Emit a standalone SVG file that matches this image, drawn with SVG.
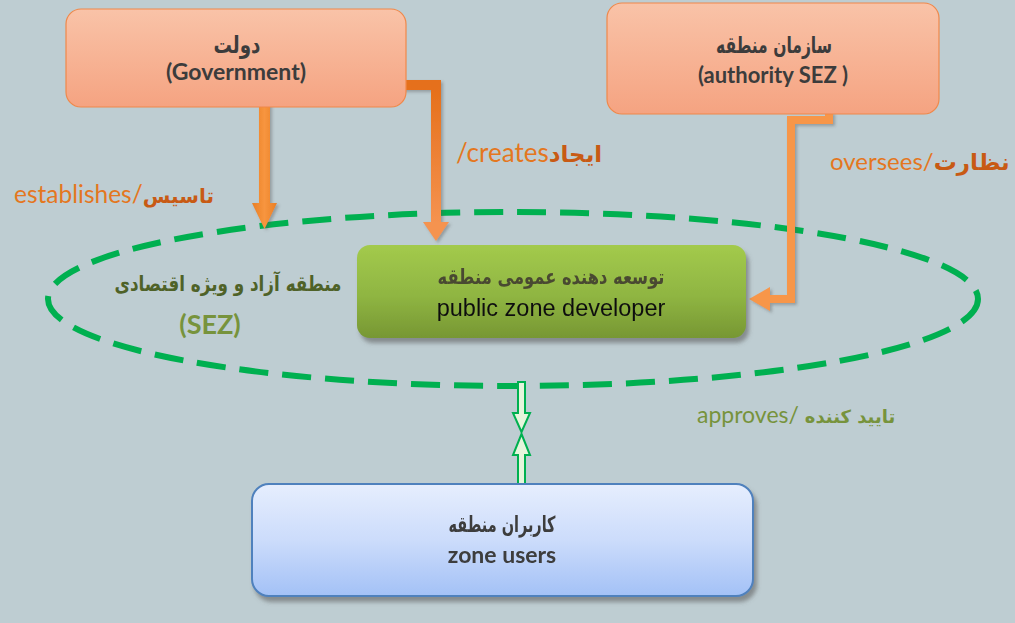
<svg xmlns="http://www.w3.org/2000/svg" width="1015" height="623" viewBox="0 0 1015 623">
<defs>
<linearGradient id="gOrange" x1="0" y1="0" x2="0" y2="1"><stop offset="0" stop-color="#F9C3A8"/><stop offset="1" stop-color="#F5A381"/></linearGradient>
<linearGradient id="gGreen" x1="0" y1="0" x2="0" y2="1"><stop offset="0" stop-color="#A3CA4C"/><stop offset="0.55" stop-color="#8FB542"/><stop offset="1" stop-color="#779733"/></linearGradient>
<linearGradient id="gBlue" x1="0" y1="0" x2="0" y2="1"><stop offset="0" stop-color="#E6EEFE"/><stop offset="0.5" stop-color="#CCDCFB"/><stop offset="1" stop-color="#A3C1F6"/></linearGradient>
<linearGradient id="gArrowH" x1="0" y1="0" x2="1" y2="0"><stop offset="0" stop-color="#E97F25"/><stop offset="0.5" stop-color="#F7953F"/><stop offset="1" stop-color="#E97F25"/></linearGradient>
<linearGradient id="gCreate" x1="0" y1="0" x2="0" y2="1"><stop offset="0" stop-color="#E56F1A"/><stop offset="1" stop-color="#F59350"/></linearGradient>
<filter id="sh" x="-10%" y="-10%" width="125%" height="135%"><feDropShadow dx="3" dy="5" stdDeviation="2" flood-color="#555" flood-opacity="0.55"/></filter>
<filter id="shs" x="-20%" y="-20%" width="150%" height="150%"><feDropShadow dx="2" dy="2" stdDeviation="1.5" flood-color="#555" flood-opacity="0.4"/></filter>
</defs>
<style>
.fa{font-family:"DejaVu Sans","Noto Sans",sans-serif;font-weight:bold}
.la{font-family:Lato,"Open Sans","DejaVu Sans",sans-serif}
.dark{fill:#3C3C3C}
.orange{fill:#E4771F}
.orangeB{fill:#C85A14;font-weight:bold}
</style>
<rect width="1015" height="623" fill="#BECDD2"/>

<g id="sez-zone">
<ellipse cx="513" cy="299" rx="465" ry="87" fill="none" stroke="#00B050" stroke-width="6" stroke-dasharray="29 14"/>
<text x="228" y="291" text-anchor="middle" class="fa" font-size="21" textLength="227" lengthAdjust="spacingAndGlyphs" fill="#4F6228">منطقه آزاد و ویژه اقتصادی</text>
<text x="210" y="334" text-anchor="middle" class="la" font-weight="bold" font-size="27" fill="#77933C">(SEZ)</text>
</g>

<g id="connectors">
<g id="establishes" filter="url(#shs)">
<polygon points="259,95 264.5,106 270,95 270,203 277,203 264.5,229 252,203 259,203" fill="url(#gArrowH)"/>
</g>
<g id="creates" filter="url(#shs)">
<path d="M402 85 H436 V224" fill="none" stroke="url(#gCreate)" stroke-width="10"/>
<polygon points="423,222 449,222 436,241" fill="#F59350"/>
</g>
<g id="oversees" filter="url(#shs)">
<path d="M829 112 V120 H791 V299 H768" fill="none" stroke="#F7964A" stroke-width="8"/>
<polygon points="770,287 770,311 749,299" fill="#F7964A"/>
</g>
<g id="approves" fill="#E6F5DC" stroke="#00B050" stroke-width="2">
<polygon points="518,382 525,382 525,413 530,413 521.5,432 513,413 518,413"/>
<polygon points="521.5,434 530,455 525,455 525,484 518,484 518,455 513,455"/>
</g>
<text x="14" y="203" class="la" font-size="24.5"><tspan class="orange">establishes/</tspan><tspan class="fa orangeB" font-size="20">تاسیس</tspan></text>
<text x="456" y="162" class="la" font-size="26"><tspan class="orange">/creates</tspan><tspan class="fa orangeB" font-size="23">ایجاد</tspan></text>
<text x="830" y="170" class="la" font-size="24"><tspan class="orange">oversees/</tspan><tspan class="fa orangeB" font-size="23">نظارت</tspan></text>
<text x="697" y="423" class="la" font-size="23"><tspan fill="#77933C">approves/ </tspan><tspan class="fa" fill="#77933C" font-size="18">تایید کننده</tspan></text>
</g>

<g id="government">
<rect x="66" y="9" width="340" height="98" rx="15" fill="url(#gOrange)" stroke="#F0884A" stroke-width="1.2"/>
<text x="237" y="53" text-anchor="middle" class="fa dark" font-size="24" textLength="47" lengthAdjust="spacingAndGlyphs">دولت</text>
<text x="236" y="80" text-anchor="middle" class="la dark" font-weight="bold" font-size="23">(Government)</text>
</g>

<g id="authority">
<rect x="607" y="3" width="332" height="111" rx="15" fill="url(#gOrange)" stroke="#F0884A" stroke-width="1.2"/>
<text x="774" y="53" text-anchor="middle" class="fa dark" font-size="23" textLength="116" lengthAdjust="spacingAndGlyphs">سازمان منطقه</text>
<text x="773" y="83" text-anchor="middle" class="la dark" font-weight="bold" font-size="22">(authority SEZ )</text>
</g>

<g id="developer" filter="url(#sh)">
<rect x="357" y="245" width="389" height="93" rx="13" fill="url(#gGreen)"/>
<text x="551" y="284" text-anchor="middle" class="fa" font-size="21" textLength="227" lengthAdjust="spacingAndGlyphs" fill="#4A4A30">توسعه دهنده عمومی منطقه</text>
<text x="551" y="316" text-anchor="middle" font-family="'Liberation Sans',Arial,sans-serif" font-size="23.5" fill="#111">public zone developer</text>
</g>

<g id="users" filter="url(#sh)">
<rect x="252" y="484" width="501" height="112" rx="17" fill="url(#gBlue)" stroke="#4F81BD" stroke-width="2"/>
<text x="502" y="532" text-anchor="middle" class="fa dark" font-size="22" textLength="107" lengthAdjust="spacingAndGlyphs">کاربران منطقه</text>
<text x="502" y="563" text-anchor="middle" class="la dark" font-weight="bold" font-size="23">zone users</text>
</g>
</svg>
